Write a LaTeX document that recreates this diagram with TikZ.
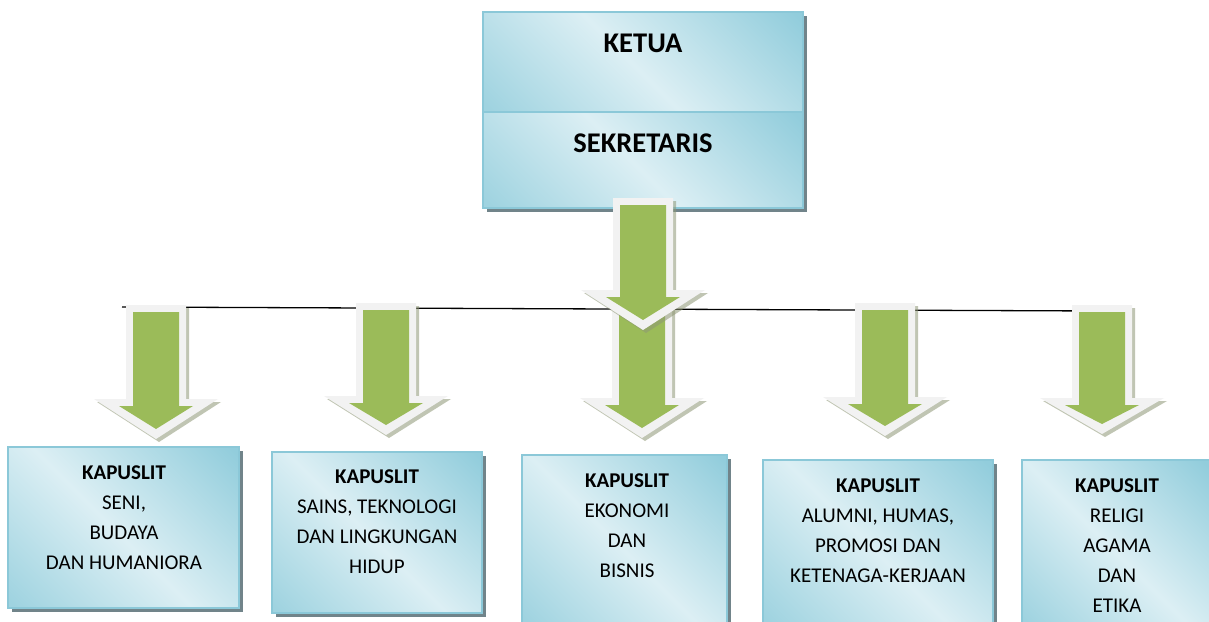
\documentclass[tikz,border=0pt]{standalone}
\usepackage{fontspec}
\setmainfont{Carlito}
\usetikzlibrary{shadows}

\definecolor{bdark}{HTML}{92CDDC}
\definecolor{bmid}{HTML}{9FD3E0}
\definecolor{blight}{HTML}{DCEFF4}
\definecolor{bborder}{HTML}{8BC8D8}
\definecolor{agreen}{HTML}{9BBB59}
\definecolor{aedge}{HTML}{F2F2F2}
\definecolor{ashadow}{HTML}{8E9775}

% diagonal blue fill: darker corners, light band across the middle
\pgfdeclarehorizontalshading{boxshade}{100bp}{color(0bp)=(bmid); color(16bp)=(bmid); color(48bp)=(blight); color(84bp)=(bdark); color(100bp)=(bdark)}

% block arrow pointing down: centre x, top y, head start y, tip y
\newcommand{\blkarrow}[4]{%
  \fill[ashadow, opacity=.55, xshift=3pt, yshift=-3pt]
    ({#1-30},{#2}) -- ({#1-30},{#3}) -- ({#1-62},{#3}) -- ({#1},{#4})
    -- ({#1+62},{#3}) -- ({#1+30},{#3}) -- ({#1+30},{#2}) -- cycle;
  \fill[aedge]
    ({#1-30},{#2}) -- ({#1-30},{#3}) -- ({#1-62},{#3}) -- ({#1},{#4})
    -- ({#1+62},{#3}) -- ({#1+30},{#3}) -- ({#1+30},{#2}) -- cycle;
  \fill[agreen]
    ({#1-23},{#2+7}) -- ({#1-23},{#3+7}) -- ({#1-37},{#3+7}) -- ({#1},{#4-10})
    -- ({#1+37},{#3+7}) -- ({#1+23},{#3+7}) -- ({#1+23},{#2+7}) -- cycle;
}

\begin{document}
\begin{tikzpicture}[x=1pt, y=-1pt,
  bluebox/.style={draw=bborder, line width=1.6pt, shading=boxshade, shading angle=45,
    inner sep=0pt, outer sep=0pt,
    drop shadow={shadow xshift=4pt, shadow yshift=-4pt, fill=black!55!bdark, opacity=.75}},
  toptext/.style={font=\fontsize{28.5}{34}\selectfont\bfseries, inner sep=0pt},
  ktext/.style={align=center, font=\fontsize{21}{30}\selectfont, inner sep=0pt}]

\useasboundingbox (0,0) rectangle (1209,621);
\fill[white] (0,0) rectangle (1209,621);

% top boxes
\node[bluebox, minimum width=320pt, minimum height=100pt] (ketua) at (643,62) {};
\node[bluebox, minimum width=320pt, minimum height=96pt] (sekretaris) at (643,160) {};
\node[toptext] (tketua) at (643,43) {KETUA};
\node[toptext] (tsek) at (643,143) {SEKRETARIS};

% bottom boxes
\node[bluebox, minimum width=231pt, minimum height=161pt] (b1) at (123.5,527.5) {};
\node[bluebox, minimum width=210pt, minimum height=161pt] (b2) at (377,532.5) {};
\node[bluebox, minimum width=205pt, minimum height=170pt] (b3) at (624.5,540) {};
\node[bluebox, minimum width=230pt, minimum height=165pt] (b4) at (878,542.5) {};
\node[bluebox, minimum width=188pt, minimum height=165pt] (b5) at (1116,542.5) {};

\node[ktext] (t1) at (124,517.5) {\textbf{KAPUSLIT}\\SENI,\\BUDAYA\\DAN HUMANIORA};
\node[ktext] (t2) at (377,522) {\textbf{KAPUSLIT}\\SAINS, TEKNOLOGI\\DAN LINGKUNGAN\\HIDUP};
\node[ktext] (t3) at (627,526) {\textbf{KAPUSLIT}\\EKONOMI\\DAN\\BISNIS};
\node[ktext] (t4) at (878,530.5) {\textbf{KAPUSLIT}\\ALUMNI, HUMAS,\\PROMOSI DAN\\KETENAGA-KERJAAN};
\node[ktext] (t5) at (1117,545.5) {\textbf{KAPUSLIT}\\RELIGI\\AGAMA\\DAN\\ETIKA};

% distribution line
\coordinate (hl) at (122,307);
\coordinate (hr) at (1100,311);
\draw[line width=1.3pt] (hl) -- (hr);

% arrows
\blkarrow{156}{305}{399}{439}
\blkarrow{386}{303}{396}{435}
\blkarrow{642}{300}{398}{438}
\blkarrow{885}{303}{397}{436}
\blkarrow{1102}{305}{398}{434}
\blkarrow{643}{198}{290}{330}
\end{tikzpicture}
\end{document}
